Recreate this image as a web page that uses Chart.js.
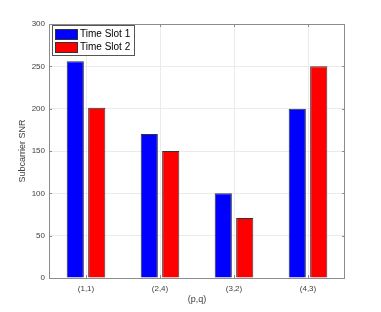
<!DOCTYPE html>
<html>
<head>
<meta charset="utf-8">
<script src="https://cdn.jsdelivr.net/npm/chart.js@4"></script>
<style>
  html, body { margin: 0; padding: 0; background: #fff; }
  #wrap { width: 381px; height: 312px; }
</style>
</head>
<body>
<div id="wrap"><canvas id="c" width="381" height="312"></canvas></div>
<script>
const categories = ["(1,1)", "(2,4)", "(3,2)", "(4,3)"];
const slot1 = [256, 170, 100, 200];
const slot2 = [201, 150, 71, 250];
const seriesNames = ["Time Slot 1", "Time Slot 2"];
const yTicks = [0, 50, 100, 150, 200, 250, 300];

const FONT = "'Liberation Sans', Arial, Helvetica, sans-serif";

// axes box, inside tick marks and the legend, MATLAB style
const boxPlugin = {
    id: "box",
    afterDraw(chart) {
        const { ctx, chartArea: a, scales } = chart;
        ctx.save();
        ctx.strokeStyle = "#8c8c8c";
        ctx.lineWidth = 1;
        ctx.strokeRect(a.left + 0.5, a.top + 0.5, a.right - a.left - 1, a.bottom - a.top);
        ctx.beginPath();
        scales.y.ticks.forEach((t) => {
            const y = Math.round(scales.y.getPixelForValue(t.value)) + 0.5;
            ctx.moveTo(a.left, y); ctx.lineTo(a.left + 3, y);
            ctx.moveTo(a.right, y); ctx.lineTo(a.right - 3, y);
        });
        scales.x.ticks.forEach((t, i) => {
            const x = Math.round(scales.x.getPixelForValue(i)) + 0.5;
            ctx.moveTo(x, a.bottom); ctx.lineTo(x, a.bottom - 3);
            ctx.moveTo(x, a.top); ctx.lineTo(x, a.top + 3);
        });
        ctx.stroke();

        // legend
        const lx = a.left + 3, ly = a.top + 1, lw = 82, lh = 30;
        ctx.fillStyle = "#fff";
        ctx.fillRect(lx, ly, lw, lh);
        ctx.strokeStyle = "#555";
        ctx.strokeRect(lx + 0.5, ly + 0.5, lw, lh);
        ctx.font = "10px " + FONT;
        ctx.textBaseline = "middle";
        chart.data.datasets.forEach((ds, i) => {
            const sy = ly + 4 + i * 13;
            ctx.fillStyle = ds.backgroundColor;
            ctx.fillRect(lx + 3, sy, 22, 10);
            ctx.strokeStyle = "#333";
            ctx.strokeRect(lx + 3.5, sy + 0.5, 22, 10);
            ctx.fillStyle = "#000";
            ctx.fillText(ds.label, lx + 28, sy + 5.5);
        });
        ctx.restore();
    },
};

new Chart(document.getElementById("c"), {
    type: "bar",
    data: {
        labels: categories,
        datasets: [
            { label: seriesNames[0], data: slot1, backgroundColor: "#0000ff", borderColor: "#333", borderWidth: 1 },
            { label: seriesNames[1], data: slot2, backgroundColor: "#ff0000", borderColor: "#333", borderWidth: 1 },
        ],
    },
    options: {
        responsive: false,
        animation: false,
        categoryPercentage: 0.58,
        barPercentage: 0.8,
        layout: { padding: { top: 24, right: 36, left: 0, bottom: 0 } },
        plugins: { legend: { display: false }, tooltip: { enabled: false } },
        scales: {
            x: {
                grid: { offset: false, color: "#ebebeb", drawTicks: false },
                border: { display: false },
                ticks: { color: "#404040", font: { size: 8, family: FONT }, padding: 6 },
                title: { display: true, text: "(p,q)", color: "#404040", font: { size: 9, family: FONT }, padding: { top: 0, bottom: 7 } },
                afterFit(s) { s.height = 34; },
            },
            y: {
                min: 0,
                max: 300,
                afterBuildTicks(s) { s.ticks = yTicks.map((v) => ({ value: v })); },
                grid: { color: "#ebebeb", drawTicks: false },
                border: { display: false },
                ticks: { color: "#404040", font: { size: 8, family: FONT }, padding: 4 },
                title: { display: true, text: "Subcarrier SNR", color: "#404040", font: { size: 9, family: FONT }, padding: { top: 17, bottom: 0 } },
                afterFit(s) { s.width = 49; },
            },
        },
    },
    plugins: [boxPlugin],
});
</script>
</body>
</html>
